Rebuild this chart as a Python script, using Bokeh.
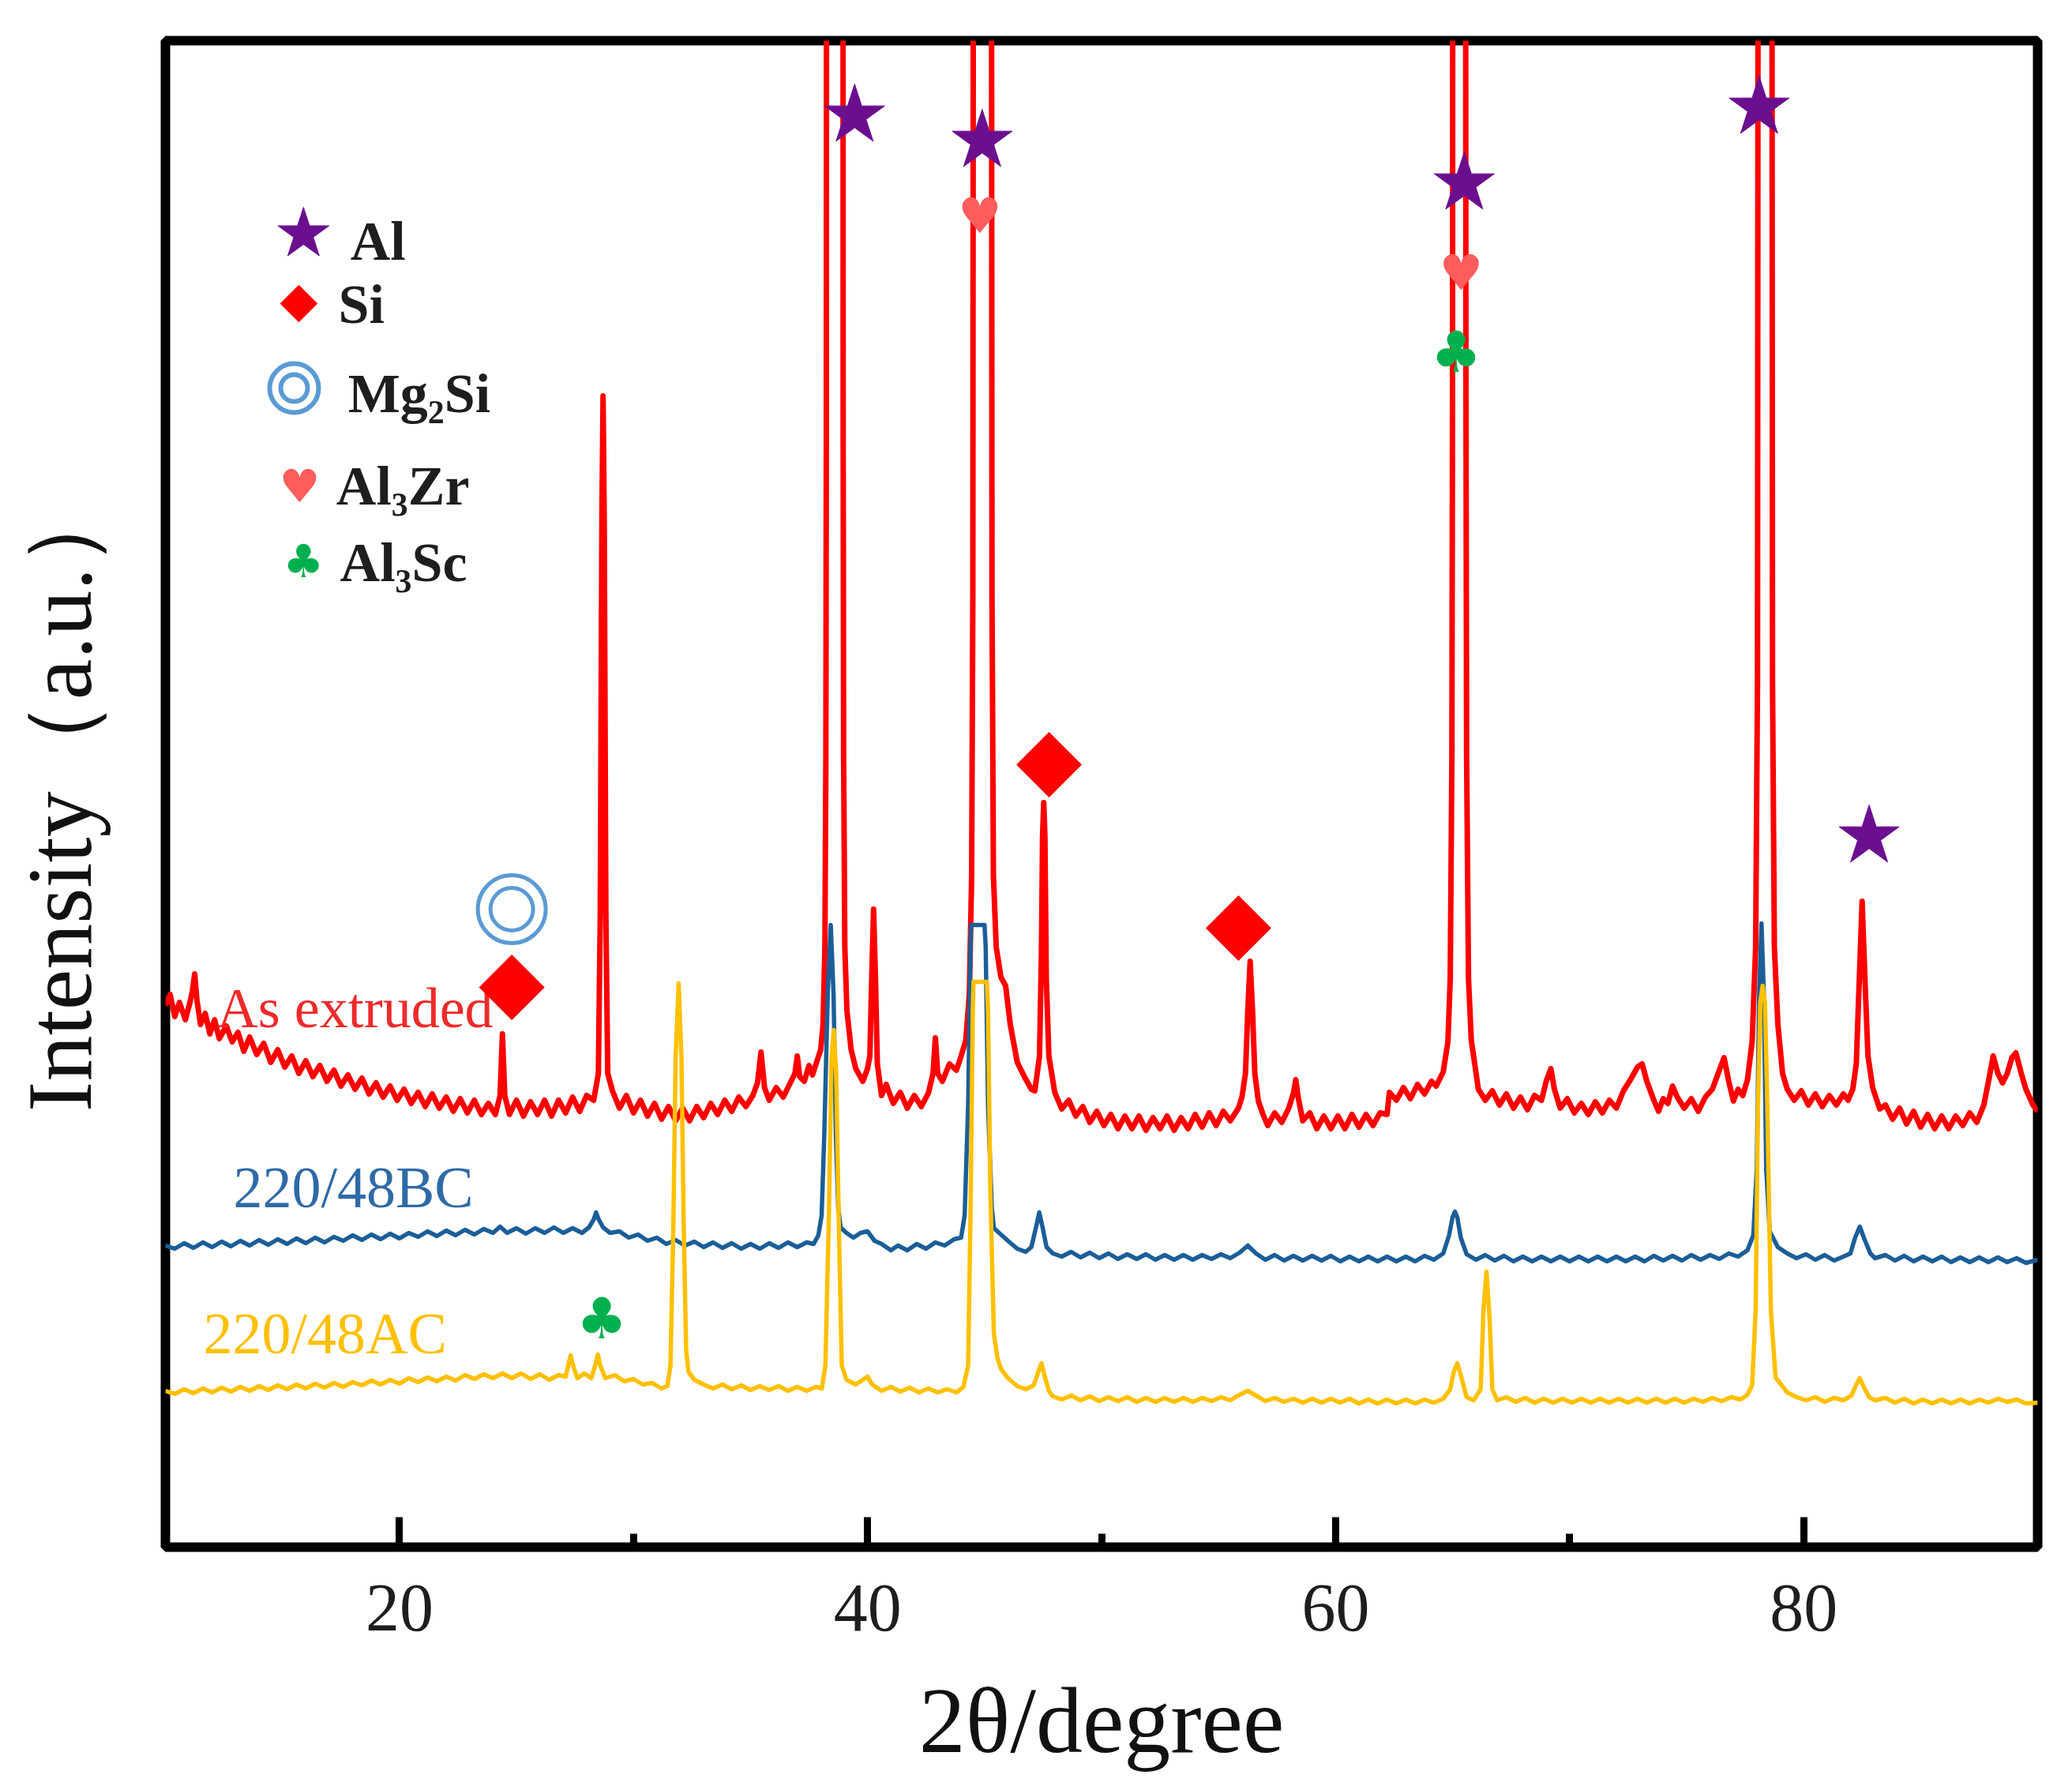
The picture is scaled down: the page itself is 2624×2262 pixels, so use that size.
from bokeh.plotting import figure
from bokeh.models import Range1d, FixedTicker
from bokeh.core.properties import value
from bokeh.embed import file_html
from bokeh.resources import INLINE
import math

# ---------------- data (2theta in degree, intensity in arbitrary units) ----------------
RED_PTS = [
(10.0,686),(10.2,700),(10.4,672),(10.6,690),(10.85,668),(11.05,690),(11.15,704),(11.25,726),(11.35,692),(11.5,662),
(11.7,676),(11.9,650),(12.1,668),(12.3,644),(12.6,660),(12.85,640),(13.1,652),(13.35,628),(13.6,646),(13.9,624),
(14.2,638),(14.5,614),(14.8,630),(15.1,608),(15.4,622),(15.7,600),(16.0,616),(16.3,596),(16.6,610),(16.9,590),
(17.2,604),(17.5,584),(17.8,598),(18.1,580),(18.4,594),(18.7,574),(19.0,588),(19.3,570),(19.6,584),(19.9,566),
(20.2,580),(20.5,562),(20.8,576),(21.1,558),(21.4,574),(21.7,556),(22.0,570),(22.3,552),(22.6,568),(22.9,550),
(23.2,566),(23.5,548),(23.8,562),(24.1,548),(24.3,572),(24.4,650),(24.5,572),(24.7,548),(25.0,566),(25.3,546),
(25.6,564),(25.9,548),(26.2,566),(26.5,546),(26.8,566),(27.1,550),(27.4,570),(27.7,552),(28.0,572),(28.3,566),
(28.5,600),(28.58,800),(28.65,1300),(28.7,1458),(28.75,1300),(28.82,800),(28.9,600),(29.1,578),(29.4,556),(29.7,572),
(30.0,550),(30.3,566),(30.6,546),(30.9,562),(31.2,542),(31.5,558),(31.8,540),(32.1,556),(32.4,540),(32.7,558),
(33.0,544),(33.3,562),(33.6,548),(33.9,566),(34.2,552),(34.5,570),(34.8,558),(35.1,572),(35.3,588),(35.45,627),
(35.6,582),(35.8,566),(36.1,582),(36.4,570),(36.7,588),(36.9,600),(37.0,622),(37.1,596),(37.3,590),(37.5,610),
(37.65,598),(37.8,612),(38.0,630),(38.1,662),(38.18,760),(38.22,1000),(38.24,1400),(38.25,2400),(38.6,3000),(38.95,2400),
(38.96,1400),(38.98,1000),(39.03,760),(39.12,680),(39.3,630),(39.5,606),(39.8,590),(40.0,606),(40.1,622),(40.18,720),
(40.26,808),(40.34,720),(40.42,612),(40.6,572),(40.8,586),(41.1,562),(41.4,576),(41.7,556),(42.0,572),(42.3,558),
(42.6,575),(42.8,600),(42.9,645),(43.0,600),(43.2,590),(43.5,612),(43.8,604),(44.0,622),(44.2,642),(44.35,700),
(44.45,850),(44.5,1200),(44.53,2400),(44.91,3000),(45.29,2400),(45.32,1200),(45.38,850),(45.5,760),(45.7,722),(45.9,711),
(46.1,662),(46.4,614),(46.7,596),(47.0,580),(47.15,578),(47.35,622),(47.43,750),(47.48,900),(47.53,943),(47.58,900),
(47.64,720),(47.75,622),(48.0,576),(48.3,555),(48.6,566),(48.9,546),(49.2,558),(49.5,538),(49.8,552),(50.1,534),
(50.4,548),(50.7,530),(51.0,546),(51.3,530),(51.6,546),(51.9,528),(52.2,544),(52.5,530),(52.8,546),(53.1,528),
(53.4,544),(53.7,530),(54.0,548),(54.3,532),(54.6,550),(54.9,534),(55.2,552),(55.5,540),(55.85,556),(56.0,570),
(56.15,600),(56.25,680),(56.35,742),(56.45,680),(56.55,600),(56.7,565),(56.9,548),(57.1,534),(57.4,550),(57.7,538),
(58.0,556),(58.2,575),(58.3,592),(58.4,570),(58.6,540),(58.9,550),(59.2,530),(59.5,546),(59.8,530),(60.1,546),
(60.4,530),(60.7,548),(61.0,532),(61.3,548),(61.6,534),(61.9,550),(62.2,548),(62.3,576),(62.6,566),(62.9,582),
(63.2,568),(63.5,586),(63.8,574),(64.1,590),(64.3,584),(64.6,602),(64.8,640),(64.9,720),(64.97,1000),(65.0,1500),
(65.01,2400),(65.28,3000),(65.55,2400),(65.57,1500),(65.6,1000),(65.68,720),(65.8,642),(66.1,580),(66.4,566),(66.7,578),
(67.0,560),(67.3,574),(67.6,556),(67.9,570),(68.2,554),(68.5,572),(68.8,566),(69.0,590),(69.2,606),(69.35,580),
(69.6,556),(69.9,568),(70.2,550),(70.5,562),(70.8,548),(71.1,564),(71.4,550),(71.7,566),(72.0,556),(72.3,578),
(72.6,592),(72.9,608),(73.1,612),(73.3,590),(73.6,566),(73.8,552),(74.0,568),(74.2,562),(74.4,584),(74.6,570),
(74.9,556),(75.2,568),(75.5,552),(75.8,570),(76.1,580),(76.4,604),(76.6,620),(76.8,590),(77.0,565),(77.2,580),
(77.4,572),(77.6,592),(77.8,640),(77.95,760),(78.03,1100),(78.06,2400),(78.35,3000),(78.64,2400),(78.67,1100),(78.75,760),
(78.9,662),(79.1,600),(79.3,580),(79.6,566),(79.9,578),(80.2,560),(80.5,574),(80.8,558),(81.1,572),(81.4,560),
(81.7,574),(81.9,566),(82.1,580),(82.25,612),(82.38,720),(82.5,818),(82.62,720),(82.75,622),(82.95,582),(83.25,555),
(83.5,560),(83.8,542),(84.1,556),(84.4,536),(84.7,552),(85.0,532),(85.3,548),(85.6,530),(85.9,546),(86.2,530),
(86.5,546),(86.8,534),(87.1,550),(87.4,538),(87.7,560),(87.9,590),(88.1,622),(88.3,600),(88.5,588),(88.7,600),
(88.9,620),(89.07,626),(89.3,600),(89.5,580),(89.8,560),(90.0,552),
]

BLUE_PTS = [
(10.0,382),(10.4,378),(10.8,385),(11.2,379),(11.6,386),(12.0,380),(12.4,387),(12.8,381),(13.2,388),(13.6,382),
(14.0,389),(14.4,383),(14.8,390),(15.2,384),(15.6,391),(16.0,385),(16.4,392),(16.8,386),(17.2,393),(17.6,388),
(18.0,395),(18.4,389),(18.8,396),(19.2,390),(19.6,397),(20.0,391),(20.4,398),(20.8,393),(21.2,400),(21.6,394),
(22.0,401),(22.4,395),(22.8,402),(23.2,396),(23.6,403),(24.0,398),(24.3,406),(24.6,398),(25.0,404),(25.4,397),
(25.8,404),(26.2,398),(26.6,405),(27.0,398),(27.4,404),(27.8,398),(28.1,405),(28.3,415),(28.4,424),(28.5,416),
(28.7,405),(29.0,398),(29.4,400),(29.8,392),(30.2,396),(30.6,388),(31.0,392),(31.4,384),(31.8,389),(32.2,382),
(32.6,387),(33.0,380),(33.4,386),(33.8,379),(34.2,385),(34.6,378),(35.0,384),(35.4,378),(35.8,385),(36.2,379),
(36.6,386),(37.0,380),(37.4,386),(37.7,384),(37.9,395),(38.04,420),(38.15,520),(38.3,700),(38.43,788),(38.55,700),
(38.65,520),(38.75,430),(38.85,405),(39.1,398),(39.4,392),(39.7,398),(40.0,400),(40.3,388),(40.6,384),(41.0,376),
(41.3,382),(41.7,376),(42.1,384),(42.5,378),(42.9,386),(43.3,382),(43.7,390),(44.0,392),(44.15,420),(44.3,560),
(44.4,760),(44.43,788),(45.0,788),(45.05,760),(45.15,560),(45.31,430),(45.4,404),(45.7,396),(46.0,388),(46.4,378),
(46.76,374),(47.0,380),(47.2,405),(47.34,424),(47.48,405),(47.65,380),(47.92,372),(48.3,368),(48.7,374),(49.1,367),
(49.5,373),(49.9,366),(50.3,372),(50.7,365),(51.1,371),(51.5,365),(51.9,371),(52.3,364),(52.7,370),(53.1,364),
(53.5,370),(53.9,364),(54.3,370),(54.7,365),(55.1,371),(55.5,366),(55.9,373),(56.25,382),(56.6,372),(57.0,364),
(57.4,370),(57.8,363),(58.2,369),(58.6,363),(59.0,369),(59.4,363),(59.8,369),(60.2,362),(60.6,368),(61.0,362),
(61.4,368),(61.8,362),(62.2,368),(62.6,362),(63.0,368),(63.4,362),(63.8,369),(64.2,364),(64.6,372),(64.85,395),
(65.0,418),(65.1,425),(65.2,418),(65.35,392),(65.6,371),(66.0,364),(66.4,370),(66.8,363),(67.2,369),(67.6,362),
(68.0,368),(68.4,362),(68.8,368),(69.2,362),(69.6,368),(70.0,362),(70.4,368),(70.8,362),(71.2,368),(71.6,362),
(72.0,368),(72.4,362),(72.8,368),(73.2,362),(73.6,369),(74.0,363),(74.4,369),(74.8,363),(75.2,370),(75.6,364),
(76.0,370),(76.4,365),(76.8,372),(77.2,368),(77.6,376),(77.85,395),(78.0,480),(78.1,700),(78.2,790),(78.3,700),
(78.4,480),(78.55,400),(78.9,380),(79.3,372),(79.7,366),(80.1,371),(80.5,364),(80.9,370),(81.3,363),(81.7,368),
(82.0,372),(82.2,392),(82.4,406),(82.6,390),(82.85,372),(83.05,366),(83.5,370),(83.9,363),(84.3,369),(84.7,362),
(85.1,368),(85.5,362),(85.9,368),(86.3,361),(86.7,367),(87.1,361),(87.5,367),(87.9,361),(88.3,367),(88.7,361),
(89.1,366),(89.5,360),(90.0,364),
]

YELLOW_PTS = [
(10.0,198),(10.4,194),(10.8,200),(11.2,195),(11.6,201),(12.0,196),(12.4,202),(12.8,197),(13.2,203),(13.6,198),
(14.0,204),(14.4,199),(14.8,205),(15.2,200),(15.6,206),(16.0,201),(16.4,207),(16.8,202),(17.2,208),(17.6,203),
(18.0,209),(18.4,205),(18.8,211),(19.2,206),(19.6,212),(20.0,207),(20.4,214),(20.8,209),(21.2,215),(21.6,210),
(22.0,216),(22.4,211),(22.8,218),(23.2,213),(23.6,219),(24.0,214),(24.4,220),(24.8,214),(25.2,220),(25.6,213),
(26.0,219),(26.4,212),(26.8,218),(27.1,216),(27.25,235),(27.32,243),(27.4,232),(27.6,214),(27.9,220),(28.2,214),
(28.38,232),(28.48,244),(28.58,230),(28.8,214),(29.2,218),(29.6,210),(30.0,213),(30.4,206),(30.8,208),(31.2,201),
(31.45,204),(31.58,230),(31.7,400),(31.8,620),(31.93,714),(32.05,620),(32.15,400),(32.25,250),(32.35,222),(32.6,212),
(33.0,206),(33.4,201),(33.8,206),(34.2,200),(34.6,205),(35.0,199),(35.4,204),(35.8,199),(36.2,204),(36.6,198),
(37.0,203),(37.4,198),(37.8,203),(38.05,201),(38.2,230),(38.35,420),(38.46,620),(38.56,655),(38.66,600),(38.78,400),
(38.9,230),(39.1,212),(39.5,206),(39.8,212),(40.0,216),(40.2,206),(40.6,198),(41.0,203),(41.4,197),(41.8,202),
(42.2,196),(42.6,201),(43.0,196),(43.4,200),(43.8,196),(44.1,203),(44.3,230),(44.4,420),(44.5,680),(44.53,716),
(45.1,716),(45.15,680),(45.25,450),(45.4,270),(45.55,240),(45.7,226),(46.0,214),(46.4,204),(46.76,200),(47.1,205),
(47.3,222),(47.43,233),(47.56,218),(47.75,198),(47.92,191),(48.3,187),(48.7,192),(49.1,186),(49.5,191),(49.9,185),
(50.3,190),(50.7,185),(51.1,190),(51.5,184),(51.9,189),(52.3,184),(52.7,189),(53.1,184),(53.5,189),(53.9,184),
(54.3,189),(54.7,185),(55.1,190),(55.5,186),(55.9,193),(56.25,198),(56.6,192),(57.0,185),(57.4,189),(57.8,184),
(58.2,188),(58.6,183),(59.0,188),(59.4,183),(59.8,188),(60.2,183),(60.6,188),(61.0,182),(61.4,187),(61.8,182),
(62.2,187),(62.6,182),(63.0,187),(63.4,182),(63.8,187),(64.2,183),(64.6,188),(64.9,200),(65.05,222),(65.2,233),
(65.35,218),(65.6,190),(65.9,186),(66.2,200),(66.32,300),(66.45,349),(66.58,290),(66.7,200),(66.9,186),(67.3,190),
(67.7,184),(68.1,189),(68.5,183),(68.9,188),(69.3,183),(69.7,188),(70.1,183),(70.5,188),(70.9,183),(71.3,188),
(71.7,183),(72.1,188),(72.5,183),(72.9,188),(73.3,183),(73.7,188),(74.1,183),(74.5,188),(74.9,183),(75.3,188),
(75.7,184),(76.1,189),(76.5,185),(76.9,190),(77.3,187),(77.6,193),(77.8,205),(77.95,300),(78.05,560),(78.15,690),
(78.25,711),(78.35,690),(78.45,560),(78.6,300),(78.8,215),(79.3,196),(79.7,190),(80.1,186),(80.5,190),(80.9,184),
(81.3,189),(81.7,186),(82.05,192),(82.25,206),(82.4,214),(82.55,204),(82.8,190),(83.05,186),(83.5,189),(83.9,183),
(84.3,188),(84.7,182),(85.1,187),(85.5,182),(85.9,187),(86.3,182),(86.7,187),(87.1,182),(87.5,187),(87.9,183),
(88.3,188),(88.7,184),(89.1,187),(89.5,182),(90.0,183),
]

SERIES_NAMES = ["As extruded", "220/48BC", "220/48AC"]
SERIES_LABEL_X = [12.2, 12.9, 11.62]
SERIES_LABEL_Y = [683, 456, 271]

# phase markers on the patterns
AL_X = [39.45, 44.9, 65.5, 78.1, 82.8]
AL_Y = [1813, 1781, 1727, 1823, 900]
SI_X = [24.8, 47.76, 55.85]
SI_Y = [709, 991, 784]
MG2SI_X = [24.8]
MG2SI_Y = [808]
AL3ZR_X = [44.8, 65.36]
AL3ZR_Y = [1686, 1614]
AL3SC_X = [65.15, 28.64]
AL3SC_Y = [1514, 290]

# legend (key) entries
KEY_NAMES = ["Al", "Si", "Mg\u2082Si", "Al\u2083Zr", "Al\u2083Sc"]
KEY_SYM_X = [15.9, 15.7, 15.5, 15.74, 15.9]
KEY_SYM_Y = [1663, 1575, 1468, 1344, 1249]
KEY_TXT_X = [17.9, 17.39, 17.8, 17.3, 17.46]
KEY_TXT_Y = [1654, 1574, 1461, 1344, 1247]

X_TICKS = [20, 40, 60, 80]
X_MINOR = [30, 50, 70]

# ---------------- styles ----------------
RED = "#ff0000"
BLUE = "#1b5e98"
YELLOW = "#ffc000"
PURPLE = "#6b0f8f"
LIGHTBLUE = "#5b9bd5"
HEART = "#ff5c5c"
GREEN = "#00b050"
SERIF = "Liberation Serif"

p = figure(frame_width=2371, frame_height=1908,
           x_range=Range1d(10, 90), y_range=Range1d(0, 1908),
           output_backend="svg", toolbar_location=None,
           min_border_left=209, min_border_top=51, min_border_right=30, min_border_bottom=290)
p.background_fill_color = "white"
p.border_fill_color = "white"
p.outline_line_color = "black"
p.outline_line_width = 12
p.xgrid.visible = False
p.ygrid.visible = False

# curves
rx, ry = zip(*RED_PTS)
bx, by = zip(*BLUE_PTS)
yx, yy = zip(*YELLOW_PTS)
p.line(list(rx), list(ry), line_color=RED, line_width=7, line_join="round")
p.line(list(bx), list(by), line_color=BLUE, line_width=5.5, line_join="round")
p.line(list(yx), list(yy), line_color=YELLOW, line_width=5.5, line_join="round")

# series labels
p.text(x=SERIES_LABEL_X[:1], y=SERIES_LABEL_Y[:1], text=SERIES_NAMES[:1], text_font=value(SERIF),
       text_font_size="72px", text_color="#ee2a2a", text_align="left", text_baseline="middle")
p.text(x=SERIES_LABEL_X[1:2], y=SERIES_LABEL_Y[1:2], text=SERIES_NAMES[1:2], text_font=value(SERIF),
       text_font_size="74px", text_color="#2f6aa6", text_align="left", text_baseline="middle")
p.text(x=SERIES_LABEL_X[2:], y=SERIES_LABEL_Y[2:], text=SERIES_NAMES[2:], text_font=value(SERIF),
       text_font_size="74px", text_color=YELLOW, text_align="left", text_baseline="middle")

# phase markers
p.scatter(AL_X, AL_Y, marker="star", size=80, fill_color=PURPLE, line_color=PURPLE)
p.scatter(SI_X, SI_Y, marker="square", angle=math.pi / 4, size=58, fill_color=RED, line_color=RED)
p.scatter(MG2SI_X, MG2SI_Y, marker="circle", size=86, fill_color=None, line_color=LIGHTBLUE, line_width=5)
p.scatter(MG2SI_X, MG2SI_Y, marker="circle", size=54, fill_color=None, line_color=LIGHTBLUE, line_width=5)
p.text(x=AL3ZR_X, y=AL3ZR_Y, text=["\u2665"] * len(AL3ZR_X), text_font=value("DejaVu Sans"),
       text_font_size="62px", text_color=HEART, text_align="center", text_baseline="middle")
p.text(x=AL3SC_X, y=AL3SC_Y, text=["\u2663"] * len(AL3SC_X), text_font=value("DejaVu Sans"),
       text_font_size="72px", text_color=GREEN, text_align="center", text_baseline="middle")

# key
p.scatter(KEY_SYM_X[:1], KEY_SYM_Y[:1], marker="star", size=68, fill_color=PURPLE, line_color=PURPLE)
p.scatter(KEY_SYM_X[1:2], KEY_SYM_Y[1:2], marker="square", angle=math.pi / 4, size=33, fill_color=RED, line_color=RED)
p.scatter(KEY_SYM_X[2:3], KEY_SYM_Y[2:3], marker="circle", size=62, fill_color=None, line_color=LIGHTBLUE, line_width=6)
p.scatter(KEY_SYM_X[2:3], KEY_SYM_Y[2:3], marker="circle", size=34, fill_color=None, line_color=LIGHTBLUE, line_width=6)
p.text(x=KEY_SYM_X[3:4], y=KEY_SYM_Y[3:4], text=["\u2665"], text_font=value("DejaVu Sans"),
       text_font_size="58px", text_color=HEART, text_align="center", text_baseline="middle")
p.text(x=KEY_SYM_X[4:5], y=KEY_SYM_Y[4:5], text=["\u2663"], text_font=value("DejaVu Sans"),
       text_font_size="58px", text_color=GREEN, text_align="center", text_baseline="middle")
p.text(x=KEY_TXT_X, y=KEY_TXT_Y, text=KEY_NAMES, text_font=value(SERIF), text_font_style="bold",
       text_font_size="70px", text_color="#1e1e1e", text_align="left", text_baseline="middle")

# x axis
xa = p.xaxis[0]
xa.ticker = FixedTicker(ticks=X_TICKS, minor_ticks=X_MINOR)
xa.axis_line_color = None
xa.major_tick_in = 38
xa.major_tick_out = 0
xa.minor_tick_in = 17
xa.minor_tick_out = 0
xa.major_tick_line_width = 9
xa.minor_tick_line_width = 9
xa.major_tick_line_color = "black"
xa.minor_tick_line_color = "black"
xa.major_label_text_font = SERIF
xa.major_label_text_font_size = "86px"
xa.major_label_text_color = "#1e1e1e"
xa.major_label_standoff = 48
xa.axis_label = "2\u03b8/degree"
xa.axis_label_text_font = SERIF
xa.axis_label_text_font_size = "118px"
xa.axis_label_text_font_style = "normal"
xa.axis_label_text_color = "#111111"
xa.axis_label_standoff = 46

# y axis
ya = p.yaxis[0]
ya.ticker = FixedTicker(ticks=[])
ya.axis_line_color = None
ya.major_tick_line_color = None
ya.minor_tick_line_color = None
ya.axis_label = "Intensity\uff08a.u.\uff09"
ya.axis_label_text_font = SERIF
ya.axis_label_text_font_size = "116px"
ya.axis_label_text_font_style = "normal"
ya.axis_label_text_color = "#111111"
ya.axis_label_standoff = 70

open("out.html", "w").write(file_html(p, INLINE))
